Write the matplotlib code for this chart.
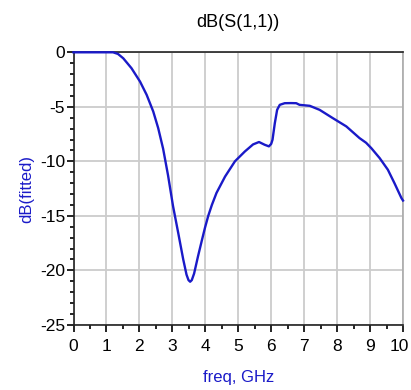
import matplotlib
matplotlib.use("Agg")
from matplotlib import pyplot as plt
from matplotlib import ticker as ticker
from matplotlib import transforms as mtransforms
import numpy as np

# Values
freq = [0.0, 1.0, 1.2, 1.35, 1.51, 1.76, 2.02, 2.22, 2.42, 2.57, 2.72, 2.87, 3.02, 3.18,
        3.33, 3.43, 3.49, 3.54, 3.59, 3.66, 3.78, 3.9, 3.99, 4.09, 4.2, 4.34, 4.6, 4.9,
        5.2, 5.45, 5.63, 5.8, 5.93, 6.0, 6.04, 6.11, 6.18, 6.26, 6.41, 6.6, 6.76, 6.86,
        7.17, 7.47, 7.87, 8.28, 8.68, 8.88, 9.04, 9.29, 9.54, 9.74, 9.95, 10.0]
s11_db = [0.0, 0.0, 0.0, -0.15, -0.55, -1.46, -2.69, -3.9, -5.43, -6.95, -8.85, -11.3, -14.1, -16.6,
          -19.0, -20.4, -20.9, -21.05, -20.9, -20.3, -18.7, -17.2, -16.1, -15.0, -14.0, -12.9, -11.4, -10.0,
          -9.1, -8.45, -8.23, -8.48, -8.63, -8.4, -8.02, -6.5, -5.28, -4.82, -4.67, -4.66, -4.67, -4.82,
          -4.91, -5.28, -6.04, -6.8, -7.87, -8.3, -8.8, -9.7, -10.77, -12.0, -13.36, -13.6]
x_ticks = list(range(0, 11))

plt.rcParams['font.family'] = ['Liberation Sans Narrow', 'Liberation Sans', 'DejaVu Sans']
plt.rcParams['axes.unicode_minus'] = False

fig = plt.figure(figsize=(4.11, 3.90), dpi=100)
ax = fig.add_axes([73.5 / 411, 1 - 324.8 / 390, 329.5 / 411, 272.5 / 390])

blue = "#1a1ac8"
ax.plot(freq, s11_db, color=blue, lw=1.7, zorder=3, clip_on=False)

ax.set_xlim(0, 10)
ax.set_ylim(-25, 0)
ax.set_xticks(x_ticks, [str(t) for t in x_ticks])
ax.xaxis.set_minor_locator(ticker.MultipleLocator(0.5))
ax.yaxis.set_major_locator(ticker.MultipleLocator(5))
ax.yaxis.set_minor_locator(ticker.MultipleLocator(1))
ax.tick_params(which="major", direction="out", length=5, width=1.2, labelsize=12.5)
ax.tick_params(axis="x", which="major", pad=5)
ax.tick_params(axis="y", which="major", pad=1)
ax.tick_params(which="minor", direction="out", length=3, width=1.2)
ax.grid(True, which="major", color="#cccccc", lw=1.3)
ax.set_axisbelow(True)

# nudge the "10" label so it stays inside the image
for lab in ax.get_xticklabels():
    if lab.get_text() == "10":
        lab.set_transform(lab.get_transform() + mtransforms.ScaledTranslation(-4 / 100, 0, fig.dpi_scale_trans))

for side in ("left", "bottom", "top"):
    ax.spines[side].set_color("#222222")
    ax.spines[side].set_linewidth(1.2)
ax.spines["right"].set_color("#aaaaaa")
ax.spines["right"].set_linewidth(1.2)

ax.set_title("dB(S(1,1))", fontsize=13, pad=18)
ax.set_xlabel("freq, GHz", color=blue, fontsize=12, labelpad=12)
ax.set_ylabel("dB(fitted)", color=blue, fontsize=12, labelpad=4)

fig.savefig("out.png", dpi=100)
